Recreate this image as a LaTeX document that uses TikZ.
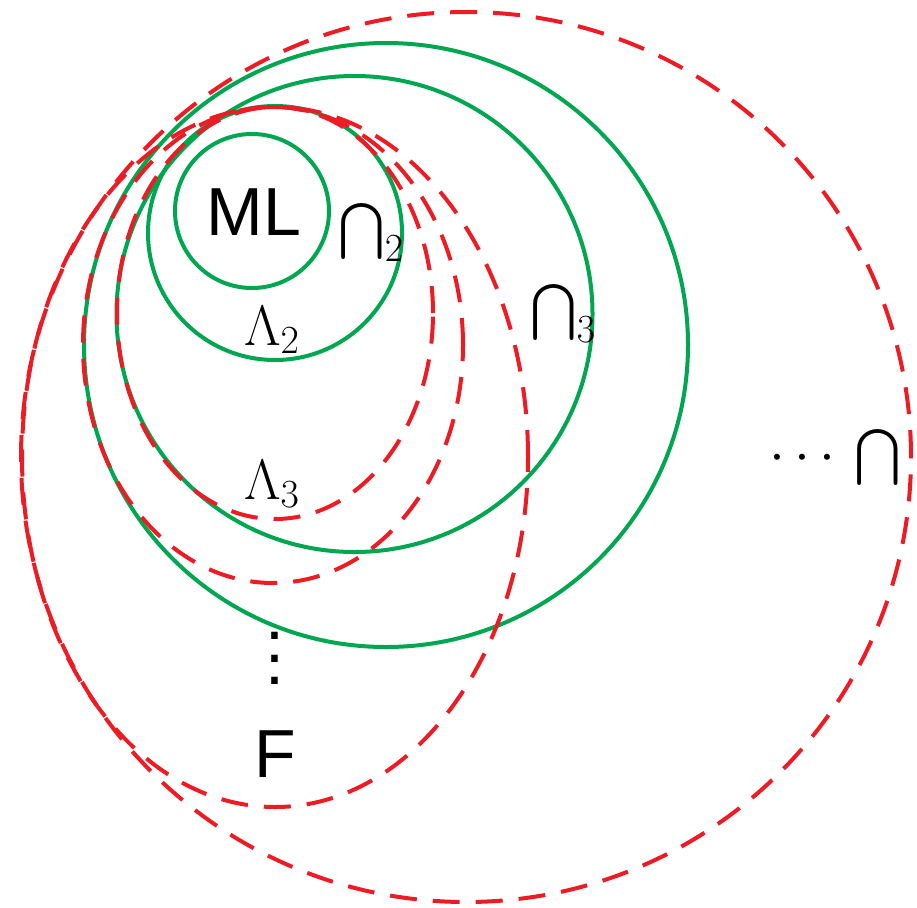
\RequirePackage{fix-cm}
\documentclass[tikz,border=0pt]{standalone}
\usepackage{graphicx}
\usepackage{fontspec}
\newfontfamily\arialfont{Liberation Sans}
\definecolor{cgreen}{HTML}{00A650}
\definecolor{cred}{HTML}{ED1C24}
\newcommand{\BigCapOp}{\mathop{\vcenter{\hbox{\scalebox{5.6}{\fontsize{10}{12}\selectfont$\bigcap$}}}}\nolimits}
\begin{document}
\begin{tikzpicture}[x=1pt,y=-1pt,
  greenring/.style={draw=cgreen,line width=4pt},
  redring/.style={draw=cred,line width=4pt,dash pattern=on 27pt off 16pt},
  sanslabel/.style={font=\arialfont\fontsize{68}{70}\selectfont,inner sep=0pt},
  mathlabel/.style={font=\fontsize{57}{60}\selectfont,inner sep=0pt}]
\useasboundingbox (0,0) rectangle (917,907);
% green circles
\draw[greenring] (252,211) circle[radius=77pt];
\draw[greenring] (275,233) circle[radius=127pt];
\draw[greenring] (354.5,314) circle[radius=238pt];
\draw[greenring] (386,345) circle[radius=302pt];
% red dashed ellipses
\draw[redring] (275,313) ellipse[x radius=158pt,y radius=206pt];
\draw[redring] (273,345) ellipse[x radius=190pt,y radius=238pt];
\draw[redring] (275,457) ellipse[x radius=253pt,y radius=350pt];
\draw[redring] (466,457) circle[radius=445pt];
% labels
\node[sanslabel,anchor=base] (ml) at (254,235) {ML};
\node[sanslabel,anchor=base] (f) at (275,777) {F};
\node[sanslabel,font=\arialfont\fontsize{68}{22.5}\selectfont,align=center,anchor=south] (vd) at (275,685) {.\\.\\.};
\node[mathlabel,anchor=base west] (cap2) at (338,246) {$\BigCapOp_2$};
\node[mathlabel,anchor=base west] (lam2) at (244,345) {$\Lambda_2$};
\node[mathlabel,anchor=base west] (cap3) at (530,326.5) {$\BigCapOp_3$};
\node[mathlabel,anchor=base west] (lam3) at (244,499) {$\Lambda_3$};
\node[mathlabel,anchor=base west] (capinf) at (769,471.5) {$\cdots\,\BigCapOp$};
\end{tikzpicture}
\end{document}
